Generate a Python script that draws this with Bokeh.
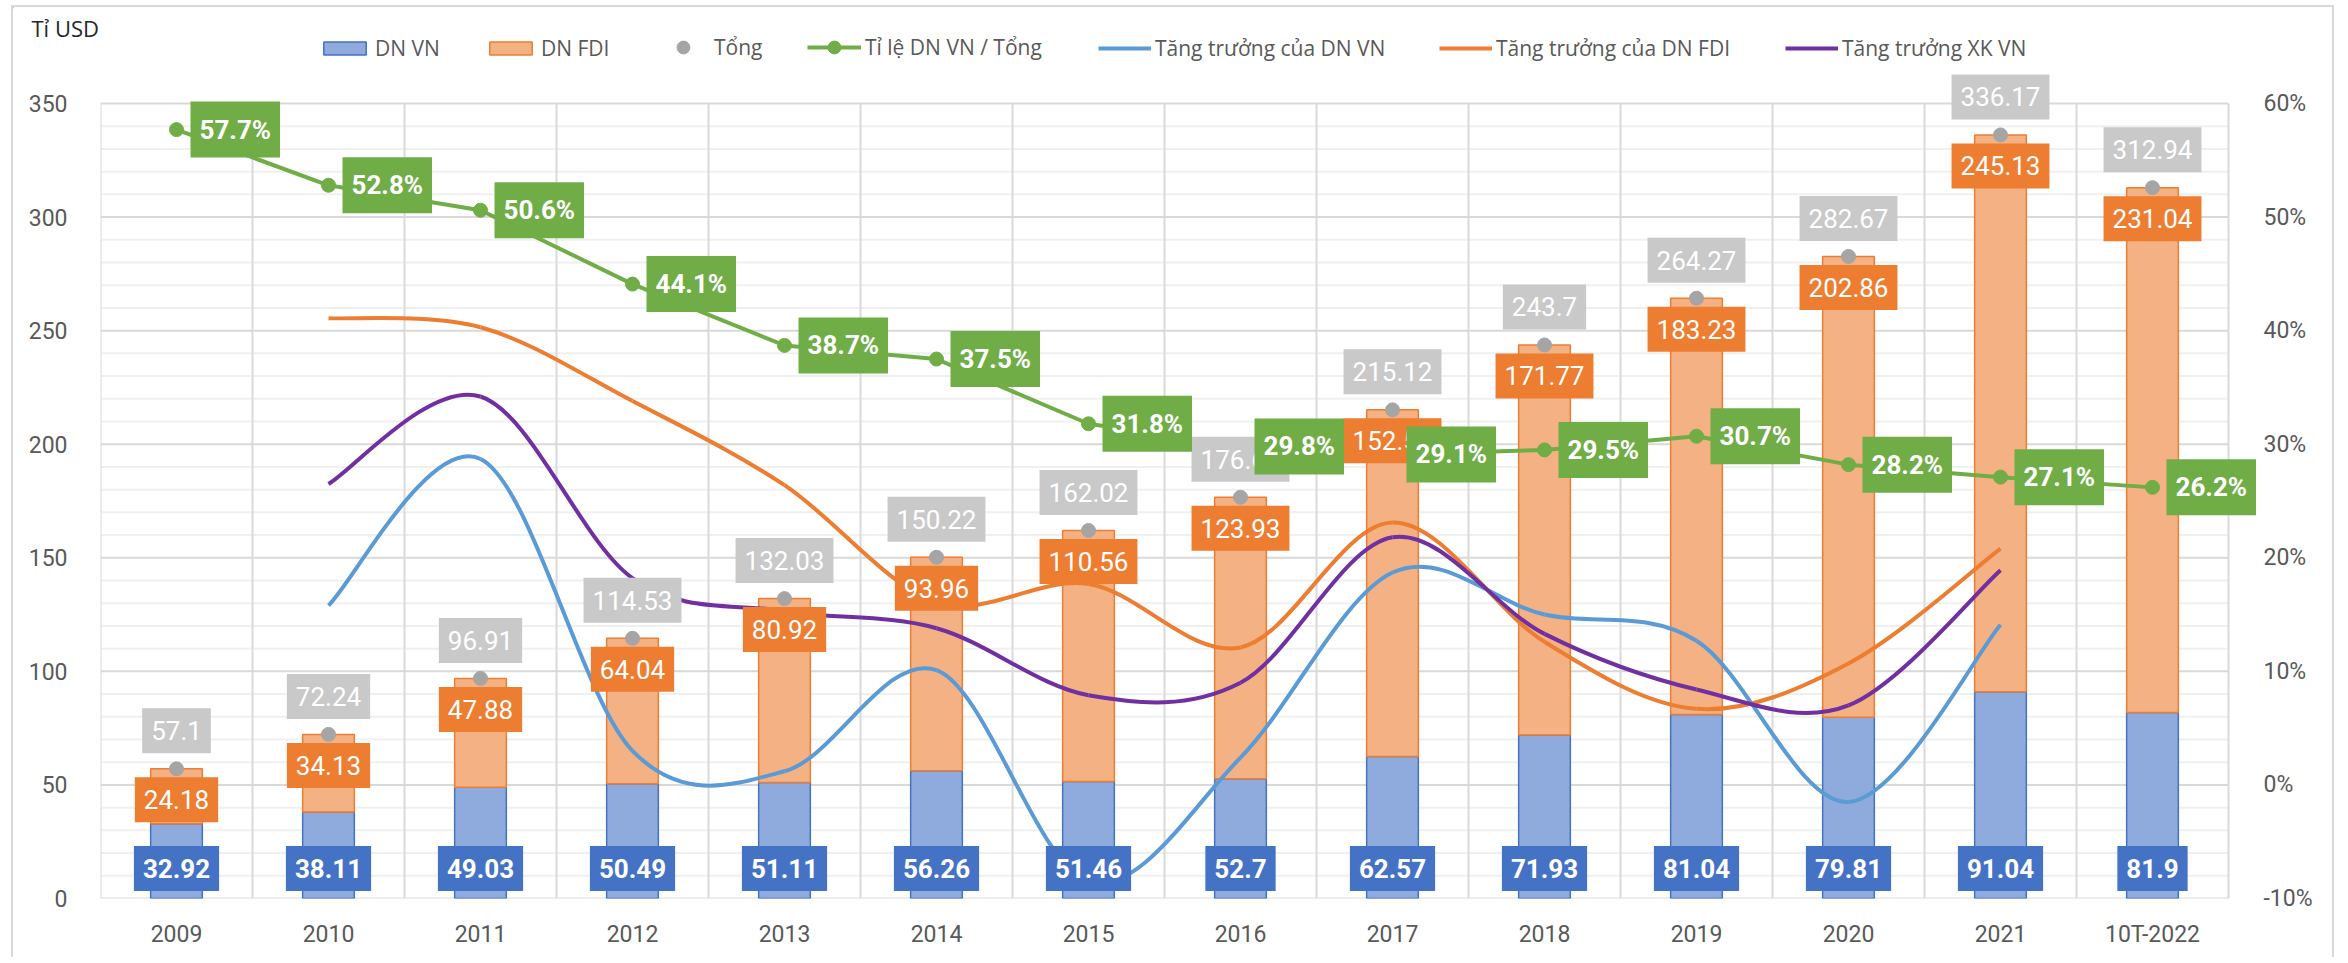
from bokeh.plotting import figure
from bokeh.layouts import column
from bokeh.models import (Range1d, LinearAxis, FixedTicker, SingleIntervalTicker,
                          PrintfTickFormatter, ColumnDataSource, Legend, LegendItem,
                          Label)
from bokeh.core.properties import value
from bokeh.embed import file_html
from bokeh.resources import INLINE

# ---------------- data ----------------
categories = ["2009", "2010", "2011", "2012", "2013", "2014", "2015",
              "2016", "2017", "2018", "2019", "2020", "2021", "10T-2022"]
dn_vn = [32.92, 38.11, 49.03, 50.49, 51.11, 56.26, 51.46, 52.7, 62.57, 71.93,
         81.04, 79.81, 91.04, 81.9]
dn_fdi = [24.18, 34.13, 47.88, 64.04, 80.92, 93.96, 110.56, 123.93, 152.55,
          171.77, 183.23, 202.86, 245.13, 231.04]
tong = [57.1, 72.24, 96.91, 114.53, 132.03, 150.22, 162.02, 176.63, 215.12,
        243.7, 264.27, 282.67, 336.17, 312.94]
ti_le = [57.7, 52.8, 50.6, 44.1, 38.7, 37.5, 31.8, 29.8, 29.1, 29.5, 30.7,
         28.2, 27.1, 26.2]
growth_years = ["2010", "2011", "2012", "2013", "2014", "2015", "2016",
                "2017", "2018", "2019", "2020", "2021"]
tt_vn = [15.8, 28.7, 3.0, 1.2, 10.1, -8.5, 2.4, 18.7, 15.0, 12.7, -1.5, 14.1]
tt_fdi = [41.1, 40.3, 33.8, 26.4, 16.1, 17.7, 12.1, 23.1, 12.6, 6.7, 10.7, 20.8]
tt_xk = [26.5, 34.2, 18.2, 15.3, 13.8, 7.9, 9.0, 21.8, 13.3, 8.4, 7.0, 18.9]
y_left = (0, 350, 50, 10)      # min, max, major step, minor step
y_right = (-10, 60, 10)        # percent axis

# ---------------- styles ----------------
C_VN, C_VN_L = "#4472c4", "#8faadc"
C_FDI, C_FDI_L = "#ed7d31", "#f4b183"
C_TONG, C_TONG_L = "#a5a5a5", "#c9c9c9"
C_GREEN = "#70ad47"
C_BLUE_LINE = "#5b9bd5"
C_PURPLE = "#7030a0"
TXT = "#595959"
GRID_MAJ, GRID_MIN = "#d9d9d9", "#f0f0f0"
LBL_FONT = value("Roboto")
LW = 4

# page geometry (px)
PAGE_L, PAGE_R = 13, 2332
TOP_T, TOP_B = 7, 67
FRAME_L, GRID_R, FRAME_R = 100, 2228, 2258
GRID_T, FRAME_B = 103, 898
FIG_B = 957

n = len(categories)
xs = list(range(n))
gx = [categories.index(y) for y in growth_years]

cat_px = (GRID_R - FRAME_L) / n
x_end = -0.5 + (FRAME_R - FRAME_L) / cat_px
unit_px = (FRAME_B - GRID_T) / (y_left[1] - y_left[0])
y_top = y_left[0] + (FRAME_B - TOP_B) / unit_px
r_scale = (y_right[1] - y_right[0]) / (y_left[1] - y_left[0])
pct_top = y_right[0] + (y_top - y_left[0]) * r_scale

p = figure(width=PAGE_R - PAGE_L, height=FIG_B - TOP_B, output_backend="svg",
           toolbar_location=None,
           x_range=Range1d(-0.5, x_end), y_range=Range1d(y_left[0], y_top),
           min_border_left=FRAME_L - PAGE_L, min_border_right=PAGE_R - FRAME_R,
           min_border_top=0, min_border_bottom=FIG_B - FRAME_B,
           outline_line_color=None)
p.frame_align = False
p.extra_y_ranges = {"pct": Range1d(y_right[0], pct_top)}
p.xgrid.visible = False
p.ygrid.visible = False

# grid lines (bounded to the chart area, like the original)
bounds = [i - 0.5 for i in range(n + 1)]
minor_y = [v for v in range(y_left[0], y_left[1] + 1, y_left[3]) if v % y_left[2]]
major_y = list(range(y_left[0], y_left[1] + 1, y_left[2]))
p.segment(x0=[-0.5] * len(minor_y), x1=[n - 0.5] * len(minor_y), y0=minor_y, y1=minor_y,
          line_color=GRID_MIN, line_width=2)
p.segment(x0=[-0.5] * len(major_y), x1=[n - 0.5] * len(major_y), y0=major_y, y1=major_y,
          line_color=GRID_MAJ, line_width=2)
p.segment(x0=bounds, x1=bounds, y0=[y_left[0]] * len(bounds), y1=[y_left[1]] * len(bounds),
          line_color=GRID_MAJ, line_width=2)

# axes
p.xaxis.ticker = FixedTicker(ticks=xs)
p.xaxis.major_label_overrides = {i: c for i, c in zip(xs, categories)}
p.yaxis.ticker = SingleIntervalTicker(interval=y_left[2])
right = LinearAxis(y_range_name="pct", ticker=SingleIntervalTicker(interval=y_right[2]),
                   formatter=PrintfTickFormatter(format="%d%%"))
p.add_layout(right, "right")
for ax in [p.xaxis[0], p.yaxis[0], right]:
    ax.axis_line_color = None
    ax.major_tick_line_color = None
    ax.minor_tick_line_color = None
    ax.major_tick_out = 0
    ax.major_tick_in = 0
    ax.major_label_text_font = "Roboto"
    ax.major_label_text_font_size = "23px"
    ax.major_label_text_color = TXT
p.yaxis[0].major_label_standoff = 29
right.major_label_standoff = 1
p.xaxis[0].major_label_standoff = 22

# bars
src = ColumnDataSource(dict(x=xs, vn=dn_vn, fdi=dn_fdi, tong=tong, ti_le=ti_le,
                            vn_lbl=[f"{v:g}" for v in dn_vn],
                            fdi_lbl=[f"{v:g}" for v in dn_fdi],
                            tong_lbl=[f"{v:g}" for v in tong],
                            tl_lbl=[f"{v:.1f}%" for v in ti_le]))
bw = 0.34
p.vbar(x="x", bottom=0, top="vn", width=bw, source=src,
       fill_color=C_VN_L, line_color=C_VN, line_width=1.5)
p.vbar(x="x", bottom="vn", top="tong", width=bw, source=src,
       fill_color=C_FDI_L, line_color=C_FDI, line_width=1.5)


# smooth curves (Excel-like smoothed line: cubic bezier, Catmull-Rom control points)
def smooth(xv, yv):
    m = len(xv)
    d = dict(x0=[], y0=[], x1=[], y1=[], cx0=[], cy0=[], cx1=[], cy1=[])
    for i in range(m - 1):
        i0 = max(i - 1, 0)
        i3 = min(i + 2, m - 1)
        d["x0"].append(xv[i]); d["y0"].append(yv[i])
        d["x1"].append(xv[i + 1]); d["y1"].append(yv[i + 1])
        d["cx0"].append(xv[i] + (xv[i + 1] - xv[i0]) / 6)
        d["cy0"].append(yv[i] + (yv[i + 1] - yv[i0]) / 6)
        d["cx1"].append(xv[i + 1] - (xv[i3] - xv[i]) / 6)
        d["cy1"].append(yv[i + 1] - (yv[i3] - yv[i]) / 6)
    return ColumnDataSource(d)


for ys, col in [(tt_vn, C_BLUE_LINE), (tt_fdi, C_FDI), (tt_xk, C_PURPLE)]:
    p.bezier(x0="x0", y0="y0", x1="x1", y1="y1", cx0="cx0", cy0="cy0",
             cx1="cx1", cy1="cy1", source=smooth(gx, ys),
             line_color=col, line_width=LW, y_range_name="pct")

# ratio line
p.line(x="x", y="ti_le", source=src, line_color=C_GREEN, line_width=LW,
       y_range_name="pct")
p.scatter(x="x", y="ti_le", source=src, size=14, fill_color=C_GREEN,
          line_color=C_GREEN, y_range_name="pct")

# total dots
p.scatter(x="x", y="tong", source=src, size=14, fill_color=C_TONG, line_color=C_TONG)

# data labels
common = dict(source=src, text_font=LBL_FONT, text_font_size="26px", text_color="white",
              text_align="center", text_baseline="middle", padding=dict(x=9, y=13))
p.text(x="x", y="tong", text="tong_lbl", y_offset=-38,
       background_fill_color=C_TONG_L, **common)
p.text(x="x", y="tong", text="fdi_lbl", y_offset=31,
       background_fill_color=C_FDI, **common)
p.text(x="x", y=0, text="vn_lbl", y_offset=-30, text_font_style="bold",
       background_fill_color=C_VN, **common)
common_l = dict(common)
common_l["text_align"] = "left"
p.text(x="x", y="ti_le", text="tl_lbl", x_offset=14, text_font_style="bold",
       background_fill_color=C_GREEN, y_range_name="pct", **common_l)

# ---------------- header strip: unit label + legend ----------------
top = figure(width=PAGE_R - PAGE_L, height=TOP_B - TOP_T, output_backend="svg",
             toolbar_location=None, x_axis_type=None, y_axis_type=None,
             x_range=Range1d(PAGE_L, PAGE_R), y_range=Range1d(TOP_B, TOP_T),
             min_border=0, outline_line_color=None)
top.frame_align = False
top.add_layout(Label(x=31, y=27, text="Tỉ USD", text_font="Open Sans",
                     text_font_size="22px", text_color="#262626",
                     text_baseline="alphabetic"))

off = -1000
lg_vn = top.vbar(x=[off], top=[1], width=1, fill_color=C_VN_L, line_color=C_VN,
                 line_width=1.5)
lg_fdi = top.vbar(x=[off], top=[1], width=1, fill_color=C_FDI_L, line_color=C_FDI,
                  line_width=1.5)
lg_tong = top.scatter(x=[off], y=[0], fill_color=C_TONG, line_color=C_TONG)
lg_tl_l = top.line(x=[off, off + 1], y=[0, 0], line_color=C_GREEN, line_width=LW)
lg_tl_p = top.scatter(x=[off], y=[0], fill_color=C_GREEN, line_color=C_GREEN)
lg_b = top.line(x=[off, off + 1], y=[0, 0], line_color=C_BLUE_LINE, line_width=LW)
lg_o = top.line(x=[off, off + 1], y=[0, 0], line_color=C_FDI, line_width=LW)
lg_p = top.line(x=[off, off + 1], y=[0, 0], line_color=C_PURPLE, line_width=LW)

LEG_CY = 47


def add_leg(label, rends, left, gw=53, gh=16, standoff=4, row_h=29):
    # location = (left edge, bottom edge) in frame pixels measured from bottom-left
    leg = Legend(items=[LegendItem(label=label, renderers=rends)],
                 location=(left - PAGE_L, TOP_B - (LEG_CY + row_h / 2)),
                 orientation="horizontal",
                 glyph_width=gw, glyph_height=gh, label_standoff=standoff,
                 padding=0, margin=0, border_line_color=None,
                 background_fill_alpha=0, label_text_font="Open Sans",
                 label_text_font_size="21px", label_text_color=TXT)
    top.add_layout(leg)


add_leg("DN VN", [lg_vn], 318)
add_leg("DN FDI", [lg_fdi], 484)
add_leg("Tổng", [lg_tong], 667, gw=32, gh=32, standoff=15, row_h=32)
add_leg("Tỉ lệ DN VN / Tổng", [lg_tl_l, lg_tl_p], 807, gw=54, gh=32, row_h=32)
add_leg("Tăng trưởng của DN VN", [lg_b], 1098)
add_leg("Tăng trưởng của DN FDI", [lg_o], 1439)
add_leg("Tăng trưởng XK VN", [lg_p], 1785)

layout = column(top, p, margin=(5, 0, 0, 11),
                styles={"border": "2px solid #d9d9d9", "border-bottom": "none"})

open("out.html", "w").write(file_html(layout, INLINE))
